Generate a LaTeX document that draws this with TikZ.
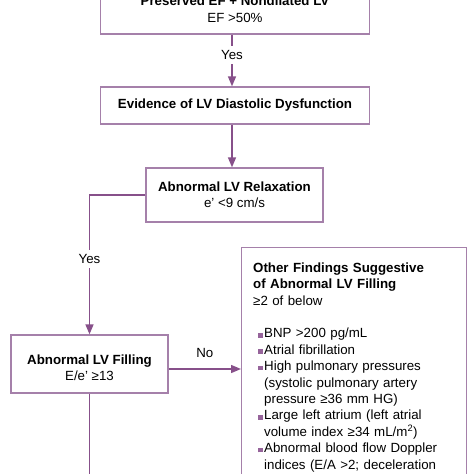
\documentclass[tikz,border=0pt]{standalone}
\usepackage{fontspec}
\setmainfont{Liberation Sans}
\usetikzlibrary{arrows.meta,calc}
\definecolor{linecol}{RGB}{135,80,138}
\definecolor{boxcol}{RGB}{165,128,170}
\definecolor{bulcol}{RGB}{150,100,155}
\newcommand\bul{\makebox[11pt][l]{\hspace{4.5pt}\textcolor{bulcol}{\rule[0.4pt]{4.8pt}{4.8pt}}}}
\newcommand\ind{\hspace*{11pt}}
\begin{document}
\begin{tikzpicture}[x=1pt,y=-1pt,
  font=\fontsize{13.3}{16.4}\selectfont,
  box/.style={draw=boxcol, line width=1.3pt, align=center, inner sep=0pt},
  conn/.style={draw=linecol, line width=1.4pt},
  arr/.style={conn, -{Triangle[length=10pt,width=8pt]}},
  lab/.style={fill=white, inner sep=4.5pt}]
\useasboundingbox (0,0) rectangle (474,474);
\fill[white] (0,0) rectangle (474,474);
\node[box, minimum width=268.5, minimum height=54] (b1) at (235,7) {\rule{0pt}{14pt}\textbf{Preserved EF + Nondilated LV}\\EF >50\%};
\node[box, minimum width=268.5, minimum height=37] (b2) at (235,105.5) {\textbf{Evidence of LV Diastolic Dysfunction}};
\node[box, minimum width=177, minimum height=54] (b3) at (234.5,195) {\textbf{Abnormal LV Relaxation}\\e' <9 cm/s};
\node[box, minimum width=157, minimum height=58] (b4) at (89.5,364) {\rule{0pt}{17.5pt}\textbf{Abnormal LV Filling}\\E/e' ≥13};
\node[box, anchor=north west, minimum width=225, minimum height=260] (b5) at (241,247) {};
\node[anchor=north west, inner sep=0pt, align=left, text width=205] (t5) at (253,262.5) {%
\textbf{Other Findings Suggestive}\\
\textbf{of Abnormal LV Filling}\\
≥2 of below\\
\mbox{}\\
\bul BNP >200 pg/mL\\
\bul Atrial fibrillation\\
\bul High pulmonary pressures\\
\ind(systolic pulmonary artery\\
\ind pressure ≥36 mm HG)\\
\bul Large left atrium (left atrial\\
\ind volume index ≥34 mL/m\textsuperscript{2})\\
\bul Abnormal blood flow Doppler\\
\ind indices (E/A >2; deceleration};
\coordinate (ax) at (232,0);
\coordinate (ny) at (0,369);
\coordinate (bot) at (89.5,490);
\draw[arr] (b1.south -| ax) -- node[lab, pos=0.4]{Yes} (b2.north -| ax);
\draw[arr] (b2.south -| ax) -- (b3.north -| ax);
\draw[arr] (b3.west) -| node[lab, pos=0.73]{Yes} (b4.north);
\draw[arr] (b4.east |- ny) -- node[midway, yshift=16pt]{No} (b5.west |- ny);
\draw[conn] (b4.south) -- (bot);
\end{tikzpicture}
\end{document}
